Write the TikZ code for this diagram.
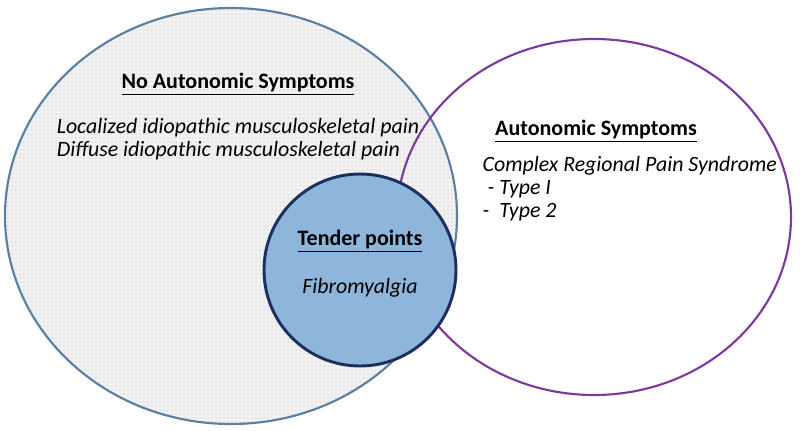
\documentclass[tikz,border=0pt]{standalone}
\usepackage{fontspec}
\setmainfont{Carlito}
\usetikzlibrary{positioning,patterns}
\definecolor{setblue}{HTML}{5A7FA3}
\definecolor{setpurple}{HTML}{7B3A9E}
\definecolor{tendfill}{HTML}{8DB6DA}
\definecolor{tendline}{HTML}{1C2F5E}

\begin{document}
\begin{tikzpicture}[x=0.75pt,y=-0.75pt,
    head/.style={font=\fontsize{16.5}{19}\selectfont\bfseries},
    item/.style={font=\fontsize{16.4}{17}\selectfont\itshape}]
    \useasboundingbox (0,0) rectangle (800,430);

    % No autonomic set
    \fill[gray!10] (231,216) ellipse [x radius=226,y radius=208];
    \fill[pattern=dots,pattern color=gray!55] (231,216) ellipse [x radius=226,y radius=208];
    \draw[setblue,line width=1.6pt] (231,216) ellipse [x radius=226,y radius=208];

    % Autonomic set
    \draw[setpurple,line width=1.6pt] (594,217) ellipse [x radius=197,y radius=178];

    % Tender points
    \draw[tendline,fill=tendfill,line width=2.2pt] (360,270) circle [radius=96];

    \node[head] (noaut) at (238,84) {\underline{No Autonomic Symptoms}};
    \node[item,align=left] (noautitems) at (238,139)
        {Localized idiopathic musculoskeletal pain\\Diffuse idiopathic musculoskeletal pain};

    \node[head] (aut) at (596,131) {\underline{Autonomic Symptoms}};
    \node[item,align=left,anchor=north west] (autitems) at (478,152)
        {Complex Regional Pain Syndrome\\\ - Type I\\- \ Type 2};

    \node[head] (tender) at (360,241) {\underline{Tender points}};
    \node[item] (fibro) at (360,288) {Fibromyalgia};
\end{tikzpicture}
\end{document}
